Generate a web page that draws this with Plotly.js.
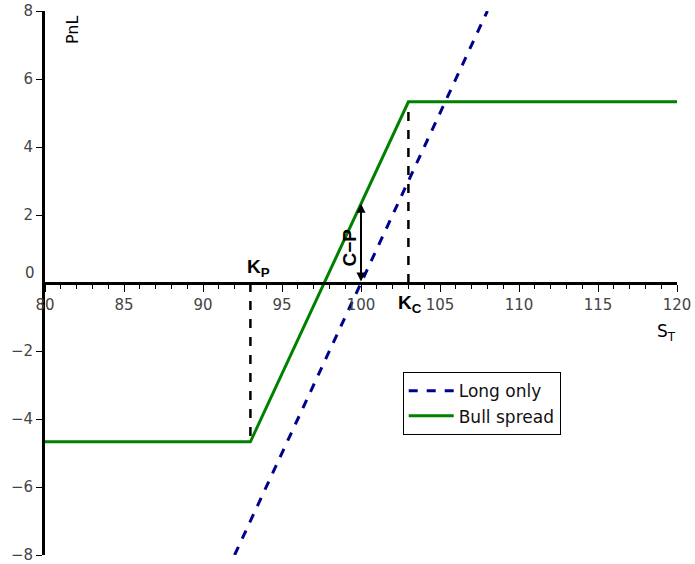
<!DOCTYPE html>
<html>
<head>
<meta charset="utf-8">
<script src="https://cdn.plot.ly/plotly-3.0.1.min.js"></script>
<style>html,body{margin:0;padding:0;background:#fff;}#chart{width:695px;height:564px;}</style>
</head>
<body>
<div id="chart"></div>
<script>
// Data
const longS = [92, 108];
const longPnL = [-8, 8];
const bullS = [80, 93, 103, 120];
const bullPnL = [-4.67, -4.67, 5.33, 5.33];
const K_P = 93;
const K_C = 103;
const S0 = 100;
const CminusP = 2.33;
const xTicks = [80, 85, 90, 95, 100, 105, 110, 115, 120];
const yTicks = [-8, -6, -4, -2, 2, 4, 6, 8];
const yTickText = ['\u22128', '\u22126', '\u22124', '\u22122', '2', '4', '6', '8'];

const tickFont = {family: 'DejaVu Sans, sans-serif', size: 15, color: '#444'};
const labelFont = {family: 'DejaVu Sans, sans-serif', size: 16, color: '#000'};
const boldFont = {family: 'Liberation Sans, Arial, sans-serif', size: 19, color: '#000'};

const traces = [
  {x: [K_P, K_P], y: [0, bullPnL[1]], mode: 'lines', line: {color: '#000', width: 2.5, dash: 'dash'}, showlegend: false, hoverinfo: 'skip'},
  {x: [K_C, K_C], y: [0, bullPnL[2]], mode: 'lines', line: {color: '#000', width: 2.5, dash: 'dash'}, showlegend: false, hoverinfo: 'skip'},
  {x: longS, y: longPnL, mode: 'lines', name: 'Long only', line: {color: '#00008B', width: 3, dash: 'dash'}},
  {x: bullS, y: bullPnL, mode: 'lines', name: 'Bull spread', line: {color: '#008000', width: 3}}
];

const layout = {
  width: 695, height: 564,
  margin: {l: 45, r: 18, t: 11, b: 9},
  paper_bgcolor: '#fff', plot_bgcolor: '#fff',
  font: tickFont,
  showlegend: true,
  legend: {x: 0.566, y: 0.336, xanchor: 'left', yanchor: 'top', bordercolor: '#000', borderwidth: 1, bgcolor: '#fff',
           font: {family: 'DejaVu Sans, sans-serif', size: 17, color: '#111'}, itemwidth: 45, tracegroupgap: 0},
  xaxis: {range: [80, 120], anchor: 'free', position: 0.5, showgrid: false, zeroline: false,
          showline: true, linecolor: '#000', linewidth: 3, ticklabeloverflow: 'allow',
          tickvals: xTicks, ticks: 'outside', ticklen: 7, tickwidth: 1, tickcolor: '#000', tickfont: tickFont,
          minor: {dtick: 1, ticks: 'outside', ticklen: 4, tickwidth: 1, tickcolor: '#000', showgrid: false}},
  xaxis2: {range: [80, 120], overlaying: 'x', anchor: 'free', position: 0.5, showgrid: false, zeroline: false,
           showline: false, tickvals: xTicks, ticks: 'inside', ticklen: 7, tickwidth: 1, tickcolor: '#000', showticklabels: false,
           minor: {dtick: 1, ticks: 'inside', ticklen: 4, tickwidth: 1, tickcolor: '#000', showgrid: false}},
  yaxis: {range: [-8, 8], showgrid: false, zeroline: false, showline: true, linecolor: '#000', linewidth: 3, ticklabeloverflow: 'allow',
          tickvals: yTicks, ticktext: yTickText, ticks: 'outside', ticklen: 6, tickwidth: 1, tickcolor: '#000', tickfont: tickFont},
  yaxis2: {range: [-8, 8], overlaying: 'y', showgrid: false, zeroline: false, showline: false,
           tickvals: yTicks.concat([0]), ticks: 'inside', ticklen: 6, tickwidth: 1, tickcolor: '#000', showticklabels: false},
  annotations: [
    {x: 80, y: 0, xref: 'x', yref: 'y', text: '0', showarrow: false, xanchor: 'right', yanchor: 'middle', xshift: -8, yshift: 10, font: tickFont},
    {x: 80, y: 7.44, xref: 'x', yref: 'y', text: 'PnL', showarrow: false, textangle: -90, xshift: 27, font: labelFont},
    {x: 119.35, y: -1.47, xref: 'x', yref: 'y', text: 'S<sub>T</sub>', showarrow: false, font: {family: 'DejaVu Sans, sans-serif', size: 17, color: '#000'}},
    {x: K_P + 0.5, y: 0.44, xref: 'x', yref: 'y', text: '<b>K<sub>P</sub></b>', showarrow: false, font: boldFont},
    {x: K_C + 0.1, y: -0.62, xref: 'x', yref: 'y', text: '<b>K<sub>C</sub></b>', showarrow: false, font: boldFont},
    {x: S0 - 0.75, y: 1.05, xref: 'x', yref: 'y', text: '<b>C\u2212P</b>', showarrow: false, textangle: -90, font: boldFont},
    {x: S0, y: CminusP, xref: 'x', yref: 'y', ax: S0, ay: 0, axref: 'x', ayref: 'y', text: '', showarrow: true,
     arrowhead: 2, startarrowhead: 2, arrowside: 'end+start', arrowsize: 0.9, arrowwidth: 2, arrowcolor: '#000', standoff: 0, startstandoff: 0}
  ]
};

Plotly.newPlot('chart', traces, layout, {displayModeBar: false, staticPlot: true});
</script>
</body>
</html>
